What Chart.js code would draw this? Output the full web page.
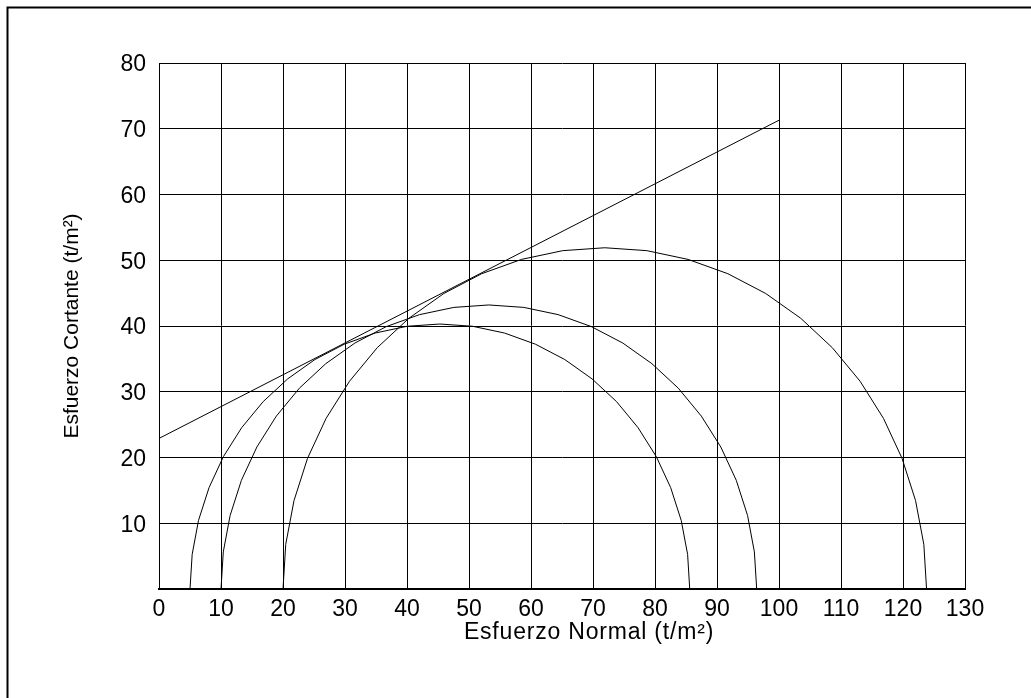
<!DOCTYPE html>
<html>
<head>
<meta charset="utf-8">
<script src="https://cdn.jsdelivr.net/npm/chart.js@4.4.0/dist/chart.umd.min.js"></script>
<style>
  html, body { margin: 0; padding: 0; background: #fff; }
  #wrap { position: relative; width: 1031px; height: 698px; }
</style>
</head>
<body>
<div id="wrap"><canvas id="myChart" width="1031" height="698"></canvas></div>
<script>
// Tick labels
const xTicks = [0, 10, 20, 30, 40, 50, 60, 70, 80, 90, 100, 110, 120, 130];
const yTicks = [10, 20, 30, 40, 50, 60, 70, 80];

// Failure envelope (straight line)
const envelopeX = [0, 100];
const envelopeY = [22.9, 71.3];

// Mohr circle 1 (points read along the arc)
const circle1X = [5.0, 5.35, 6.37, 8.07, 10.40, 13.33, 16.80, 20.77, 25.15, 29.88, 34.87, 40.04, 45.3,
                  50.56, 55.73, 60.72, 65.45, 69.83, 73.80, 77.27, 80.20, 82.53, 84.23, 85.26, 85.6];
const circle1Y = [0, 5.26, 10.43, 15.42, 20.15, 24.53, 28.50, 31.97, 34.90, 37.23, 38.93, 39.96, 40.3,
                  39.96, 38.93, 37.23, 34.90, 31.97, 28.50, 24.53, 20.15, 15.42, 10.43, 5.26, 0];

// Mohr circle 2
const circle2X = [10.0, 10.37, 11.47, 13.29, 15.79, 18.93, 22.65, 26.90, 31.6, 36.67, 42.02, 47.56, 53.2,
                  58.84, 64.38, 69.73, 74.8, 79.50, 83.75, 87.47, 90.61, 93.11, 94.93, 96.03, 96.4];
const circle2Y = [0, 5.64, 11.18, 16.53, 21.6, 26.30, 30.55, 34.27, 37.41, 39.91, 41.73, 42.83, 43.2,
                  42.83, 41.73, 39.91, 37.41, 34.27, 30.55, 26.30, 21.6, 16.53, 11.18, 5.64, 0];

// Mohr circle 3
const circle3X = [20.0, 20.44, 21.77, 23.95, 26.95, 30.73, 35.20, 40.31, 45.95, 52.04, 58.47, 65.13, 71.9,
                  78.68, 85.33, 91.76, 97.85, 103.50, 108.60, 113.08, 116.85, 119.85, 122.03, 123.36, 123.8];
const circle3Y = [0, 6.78, 13.43, 19.86, 25.95, 31.60, 36.70, 41.18, 44.95, 47.95, 50.13, 51.46, 51.9,
                  51.46, 50.13, 47.95, 44.95, 41.18, 36.70, 31.60, 25.95, 19.86, 13.43, 6.78, 0];

const xTitle = "Esfuerzo Normal (t/m²)";
const yTitle = "Esfuerzo Cortante (t/m²)";

function toPoints(xs, ys) {
    return xs.map((x, i) => ({ x: x, y: ys[i] }));
}

function lineSet(xs, ys) {
    return {
        data: toPoints(xs, ys),
        showLine: true,
        borderColor: "#000",
        borderWidth: 1,
        pointRadius: 0,
        tension: 0,
        fill: false
    };
}

const fontFamily = "'Liberation Sans', Arial, sans-serif";

// outer frame (left and top edges) plus the x axis title
const framePlugin = {
    id: "frame",
    beforeDraw(chart) {
        const ctx = chart.ctx;
        ctx.save();
        ctx.strokeStyle = "#000";
        ctx.lineWidth = 2;
        ctx.beginPath();
        ctx.moveTo(7.5, 698);
        ctx.lineTo(7.5, 7.5);
        ctx.lineTo(1031, 7.5);
        ctx.stroke();
        ctx.restore();
    },
    afterDraw(chart) {
        const ctx = chart.ctx;
        ctx.save();
        ctx.fillStyle = "#000";
        ctx.font = "23px " + fontFamily;
        ctx.letterSpacing = "0.8px";
        ctx.textAlign = "center";
        ctx.textBaseline = "middle";
        ctx.fillText(xTitle, 589, 633);
        ctx.restore();
    }
};

const myChart = new Chart(document.getElementById("myChart"), {
    type: "scatter",
    data: {
        datasets: [
            lineSet(envelopeX, envelopeY),
            lineSet(circle1X, circle1Y),
            lineSet(circle2X, circle2Y),
            lineSet(circle3X, circle3Y)
        ]
    },
    options: {
        responsive: false,
        animation: false,
        layout: { padding: { top: 63, right: 66, left: 0, bottom: 0 } },
        plugins: {
            legend: { display: false },
            tooltip: { enabled: false }
        },
        scales: {
            x: {
                type: "linear",
                min: 0,
                max: 130,
                afterFit(scale) { scale.height = 109; },
                grid: { color: "#000", lineWidth: 1, drawTicks: false },
                border: { color: "#000", width: 2 },
                ticks: {
                    stepSize: 10,
                    padding: 7,
                    color: "#000",
                    font: { family: fontFamily, size: 23 },
                    maxRotation: 0,
                    autoSkip: false,
                    callback: v => xTicks.includes(v) ? v : ""
                }
            },
            y: {
                type: "linear",
                min: 0,
                max: 80,
                afterFit(scale) { scale.width = 159; },
                grid: { color: "#000", lineWidth: 1, drawTicks: false },
                border: { color: "#000", width: 1 },
                ticks: {
                    stepSize: 10,
                    padding: 13,
                    labelOffset: 2,
                    color: "#000",
                    font: { family: fontFamily, size: 23 },
                    autoSkip: false,
                    callback: v => yTicks.includes(v) ? v : ""
                },
                title: {
                    display: true,
                    text: yTitle,
                    color: "#000",
                    font: { family: fontFamily, size: 21 },
                    padding: { top: 60, bottom: 0 }
                }
            }
        }
    },
    plugins: [framePlugin]
});
</script>
</body>
</html>
